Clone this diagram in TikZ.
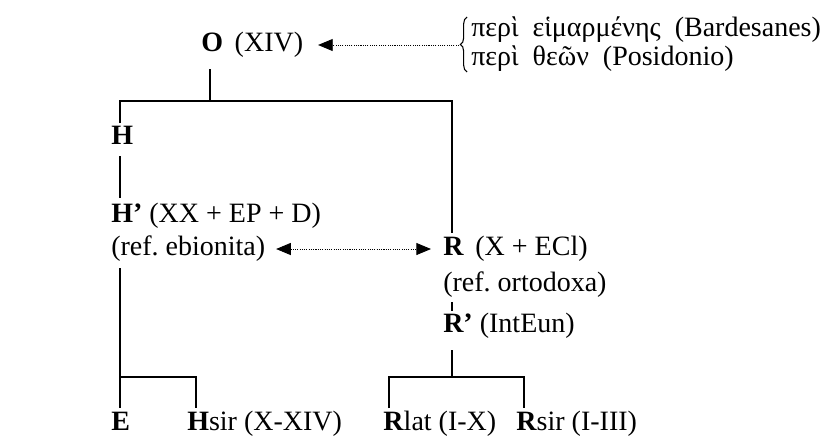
\documentclass[tikz,border=0pt]{standalone}
\usepackage{fontspec}
\setmainfont{Liberation Serif}
\usetikzlibrary{arrows.meta,decorations.pathreplacing}
\newcommand\fs{\fontsize{21pt}{21pt}\selectfont}
\begin{document}
\begin{tikzpicture}[x=0.75pt,y=-0.75pt,
  lbl/.style={anchor=west,inner sep=0pt,font=\fs,text height=14pt,text depth=4.5pt},
  tree/.style={line width=0.9pt},
  curly/.style={line width=0.8pt,decorate,decoration={brace,amplitude=5pt}},
  link/.style={line width=0.7pt,dash pattern=on 0.8pt off 0.9pt,
    arrows={-{Triangle[length=11pt,width=9pt]}}},
  dlink/.style={line width=0.7pt,dash pattern=on 0.8pt off 0.9pt,
    arrows={{Triangle[length=11pt,width=9pt]}-{Triangle[length=11pt,width=9pt]}}}]
\useasboundingbox (0,0) rectangle (830,440);
% nodes
\node[lbl] (O) at (201,45) {\textbf{O}\ \,(XIV)};
\node[anchor=west,inner sep=0pt,font=\fs,align=left] (src) at (471,44)
  {περὶ\ \ εἱμαρμένης\ \ (Bardesanes)\\[1pt]περὶ\ \ θεῶν\ \ (Posidonio)};
\node[lbl] (H) at (111,138) {\textbf{H}};
\node[lbl] (Hp) at (111,216) {\textbf{H’}\ (XX + EP + D)};
\node[lbl] (eb) at (111,249) {(ref.\ ebionita)};
\node[lbl] (R) at (443,249) {\textbf{R}\ \,(X + ECl)};
\node[lbl] (ort) at (443,285) {(ref.\ ortodoxa)};
\node[lbl] (Rp) at (443,326) {\textbf{R’}\ (IntEun)};
\node[lbl] (E) at (111,424) {\textbf{E}};
\node[lbl] (Hsir) at (187,424) {\textbf{H}sir\ (X-XIV)};
\node[lbl] (Rlat) at (383,424) {\textbf{R}lat\ (I-X)};
\node[lbl] (Rsir) at (516,424) {\textbf{R}sir\ (I-III)};
% brace coordinates
\coordinate (bLow) at (467,72);
\coordinate (bUp) at (467,17);
\coordinate (bMid) at (459,45);
% junction coordinates
\coordinate (oDrop) at (210,69);
\coordinate (jO) at (210,101);
\coordinate (jL) at (120,101);
\coordinate (jR) at (452,101);
\coordinate (hTop) at (120,123);
\coordinate (hBot) at (120,156);
\coordinate (hpTop) at (120,198);
\coordinate (ebBot) at (120,268);
\coordinate (jB) at (120,377);
\coordinate (eTop) at (120,408);
\coordinate (jH) at (196,377);
\coordinate (hsTop) at (196,408);
\coordinate (rTop) at (452,233);
\coordinate (oBot) at (452,302);
\coordinate (rpTop) at (452,311);
\coordinate (rpBot) at (452,350);
\coordinate (jRp) at (452,377);
\coordinate (jRl) at (389,377);
\coordinate (jRs) at (524,377);
\coordinate (rlTop) at (389,408);
\coordinate (rsTop) at (524,408);
% brace
\draw[curly] (bLow) -- (bUp);
% tree lines
\draw[tree] (oDrop) -- (jO);
\draw[tree] (hTop) -- (jL) -- (jR) -- (rTop);
\draw[tree] (hBot) -- (hpTop);
\draw[tree] (ebBot) -- (jB) -- (jH) -- (hsTop);
\draw[tree] (jB) -- (eTop);
\draw[tree] (oBot) -- (rpTop);
\draw[tree] (rpBot) -- (jRp);
\draw[tree] (rlTop) -- (jRl) -- (jRs) -- (rsTop);
% dotted arrows
\draw[link,shorten >=11pt] (bMid) -- (O.east);
\draw[dlink,shorten <=8pt,shorten >=9pt] (eb.east) -- (R.west);
\end{tikzpicture}
\end{document}
